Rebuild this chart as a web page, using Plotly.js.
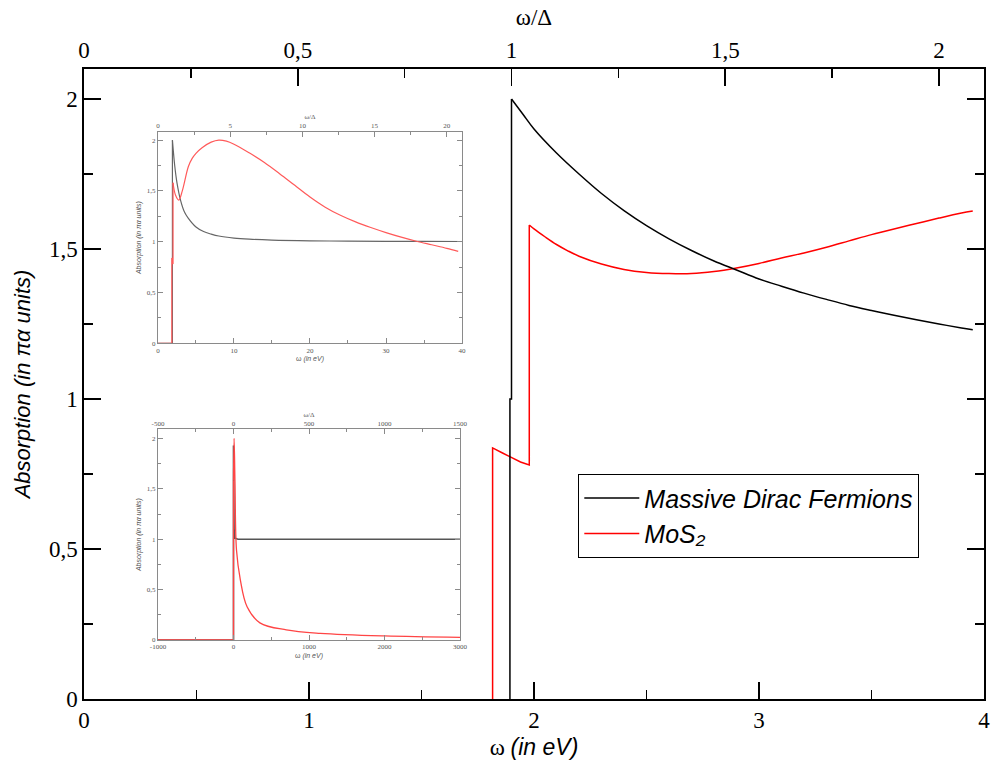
<!DOCTYPE html>
<html>
<head>
<meta charset="utf-8">
<script src="https://cdn.plot.ly/plotly-3.0.1.min.js"></script>
<style>html,body{margin:0;padding:0;background:#fff;}#chart{width:991px;height:763px;}</style>
</head>
<body>
<div id="chart"></div>
<script>
// ---------- data ----------
const DELTA_EV = 1.9;          // gap: omega/Delta = 1 at ~1.9 eV

// main panel: Massive Dirac Fermions (onset steps, then smooth decay)
const mdfStepOmega = [1.893, 1.893, 1.90, 1.90];
const mdfStepAbs   = [0, 1.0, 1.0, 2.0];
const mdfOmega = [1.90, 1.95, 2.0, 2.1, 2.2, 2.3, 2.4, 2.5, 2.6, 2.7, 2.8, 2.9, 3.0, 3.1, 3.2, 3.3, 3.4, 3.5, 3.6, 3.7, 3.8, 3.9, 3.95];
const mdfAbs   = [2.0, 1.95, 1.90, 1.82, 1.75, 1.685, 1.628, 1.578, 1.534, 1.495, 1.46, 1.43, 1.40, 1.376, 1.353, 1.332, 1.312, 1.295, 1.279, 1.264, 1.25, 1.237, 1.231];

// main panel: MoS2
const mosStepOmega = [1.816, 1.816, 1.86, 1.90, 1.94, 1.979, 1.979];
const mosStepAbs   = [0, 0.837, 0.82, 0.805, 0.79, 0.78, 1.58];
const mosOmega = [1.979, 2.0, 2.05, 2.1, 2.15, 2.2, 2.3, 2.4, 2.5, 2.6, 2.7, 2.8, 2.9, 3.0, 3.1, 3.2, 3.3, 3.4, 3.5, 3.6, 3.7, 3.8, 3.9, 3.95];
const mosAbs   = [1.58, 1.567, 1.540, 1.515, 1.494, 1.476, 1.450, 1.432, 1.422, 1.418, 1.418, 1.425, 1.437, 1.452, 1.47, 1.487, 1.506, 1.527, 1.548, 1.567, 1.585, 1.603, 1.62, 1.627];

// inset 1 (0 - 40 eV)
const in1MdfStepOmega = [0, 1.9, 1.9];
const in1MdfStepAbs   = [0, 0, 2.0];
const in1MdfOmega = [1.9, 2.2, 2.5, 3, 3.5, 4, 5, 6, 7, 8, 10, 12, 15, 20, 25, 30, 35, 40];
const in1MdfAbs   = [2.0, 1.75, 1.58, 1.40, 1.29, 1.23, 1.145, 1.10, 1.075, 1.056, 1.036, 1.025, 1.016, 1.009, 1.006, 1.004, 1.003, 1.002];
const in1MosStepOmega = [0, 1.82, 1.82, 1.98, 1.98];
const in1MosStepAbs   = [0, 0, 0.84, 0.78, 1.58];
const in1MosOmega = [1.98, 2.3, 2.74, 3.2, 4, 4.5, 5, 5.8, 7, 8, 9, 10, 12, 14, 16, 18, 20, 22, 24, 26, 28, 30, 32, 34, 36, 38, 39.5];
const in1MosAbs   = [1.58, 1.46, 1.41, 1.50, 1.74, 1.82, 1.87, 1.925, 1.98, 2.0, 1.99, 1.96, 1.875, 1.78, 1.67, 1.555, 1.44, 1.34, 1.26, 1.195, 1.14, 1.09, 1.045, 1.005, 0.97, 0.935, 0.905];

// inset 2 (-1000 - 3000 eV)
const in2MdfOmega = [-1000, 0, 0, 8, 20, 60, 3000];
const in2MdfAbs   = [0, 0, 1.93, 1.1, 1.01, 1.0, 1.0];
const in2MosStepOmega = [-1000, 0, 0];
const in2MosStepAbs   = [0, 0, 1.58];
const in2MosOmega = [0, 8, 20, 40, 90, 180, 350, 700, 1150, 2000, 3000];
const in2MosAbs   = [1.58, 2.0, 1.55, 0.89, 0.60, 0.33, 0.17, 0.10, 0.066, 0.04, 0.026];

// tick labels
const mainXTicks = [0, 1, 2, 3, 4];
const mainXLabels = ['0', '1', '2', '3', '4'];
const mainTopTicks = [0, 0.5, 1, 1.5, 2];
const mainTopLabels = ['0', '0,5', '1', '1,5', '2'];
const absTicks = [0, 0.5, 1, 1.5, 2];
const absLabels = ['0', '0,5', '1', '1,5', '2'];
const in1XTicks = [0, 10, 20, 30, 40];
const in1XLabels = ['0', '10', '20', '30', '40'];
const in1TopTicks = [0, 5, 10, 15, 20];
const in1TopLabels = ['0', '5', '10', '15', '20'];
const in2XTicks = [-1000, 0, 1000, 2000, 3000];
const in2XLabels = ['-1000', '0', '1000', '2000', '3000'];
const in2TopTicks = [-500, 0, 500, 1000, 1500];
const in2TopLabels = ['-500', '0', '500', '1000', '1500'];

// ---------- styling ----------
const SERIF = 'Liberation Serif, Times New Roman, serif';
const SANS = 'Liberation Sans, Arial, sans-serif';

function mainAxis(extra) {
  return Object.assign({
    showgrid: false, zeroline: false, showline: true, linecolor: '#000', linewidth: 1.6,
    ticks: 'inside', ticklen: 17, tickwidth: 1.6, tickcolor: '#000',
    tickmode: 'array', layer: 'above traces',
    tickfont: {family: SERIF, size: 23, color: '#000'},
    fixedrange: true
  }, extra);
}
function insetAxis(extra) {
  return Object.assign({
    showgrid: false, zeroline: false, showline: true, linecolor: '#8a8a8a', linewidth: 1,
    ticks: 'inside', ticklen: 5, tickwidth: 1, tickcolor: '#8a8a8a',
    tickmode: 'array', layer: 'above traces',
    tickfont: {family: SERIF, size: 7, color: '#555'},
    fixedrange: true
  }, extra);
}

function lineTrace(x, y, color, width, xa, ya, shape, extra) {
  return Object.assign({x: x, y: y, type: 'scatter', mode: 'lines', showlegend: false,
    line: {color: color, width: width, shape: shape, smoothing: 1}, xaxis: xa, yaxis: ya,
    cliponaxis: true}, extra || {});
}

const RED = '#ff0000', BLACK = '#000000';
const traces = [
  lineTrace(mosStepOmega, mosStepAbs, RED, 1.5, 'x', 'y', 'linear', {legendgroup: 'mos'}),
  lineTrace(mosOmega, mosAbs, RED, 1.5, 'x', 'y', 'spline',
            {legendgroup: 'mos', showlegend: true, name: 'MoS\u2082', legendrank: 2}),
  lineTrace(mdfStepOmega, mdfStepAbs, BLACK, 1.5, 'x', 'y', 'linear', {legendgroup: 'mdf'}),
  lineTrace(mdfOmega, mdfAbs, BLACK, 1.5, 'x', 'y', 'spline',
            {legendgroup: 'mdf', showlegend: true, name: 'Massive Dirac Fermions', legendrank: 1}),
  {x: [], y: [], type: 'scatter', mode: 'lines', showlegend: false, xaxis: 'x2', yaxis: 'y'},

  lineTrace(in1MdfStepOmega, in1MdfStepAbs, '#666666', 1.2, 'x3', 'y3', 'linear'),
  lineTrace(in1MdfOmega, in1MdfAbs, '#666666', 1.2, 'x3', 'y3', 'spline'),
  lineTrace(in1MosStepOmega, in1MosStepAbs, '#ff5a5a', 1.2, 'x3', 'y3', 'linear'),
  lineTrace(in1MosOmega, in1MosAbs, '#ff5a5a', 1.2, 'x3', 'y3', 'spline'),
  {x: [], y: [], type: 'scatter', mode: 'lines', showlegend: false, xaxis: 'x4', yaxis: 'y3'},

  lineTrace(in2MdfOmega, in2MdfAbs, '#555555', 1.6, 'x5', 'y5', 'linear'),
  lineTrace(in2MosStepOmega, in2MosStepAbs, '#ff4545', 1.3, 'x5', 'y5', 'linear'),
  lineTrace(in2MosOmega, in2MosAbs, '#ff4545', 1.3, 'x5', 'y5', 'spline'),
  {x: [], y: [], type: 'scatter', mode: 'lines', showlegend: false, xaxis: 'x6', yaxis: 'y5'}
];

const in1Dom = {x: [0.0822, 0.42], y: [0.5646, 0.90]};
const in2Dom = {x: [0.0822, 0.4178], y: [0.0937, 0.428]};

const layout = {
  width: 991, height: 763,
  margin: {l: 84, r: 7, t: 69, b: 64, pad: 0},
  paper_bgcolor: '#ffffff', plot_bgcolor: '#ffffff',
  showlegend: true,
  legend: {
    x: 0.549, y: 0.357, xanchor: 'left', yanchor: 'top',
    bgcolor: '#ffffff', bordercolor: '#000', borderwidth: 1.2,
    font: {family: SANS, size: 25, color: '#000', style: 'italic'},
    tracegroupgap: 0, itemwidth: 55, traceorder: 'normal'
  },
  xaxis: mainAxis({
    domain: [0, 1], anchor: 'y', range: [0, 4],
    tickvals: mainXTicks, ticktext: mainXLabels,
    minor: {ticks: 'inside', ticklen: 9, tickwidth: 1.6, tickcolor: '#000', dtick: 0.5, tick0: 0},
    title: {text: 'ω <span style="font-family:Liberation Sans;font-style:italic">(in eV)</span>',
            font: {family: SERIF, size: 23, color: '#000'}, standoff: 6}
  }),
  xaxis2: mainAxis({
    overlaying: 'x', side: 'top', anchor: 'y', range: [0, 4 / DELTA_EV],
    tickvals: mainTopTicks, ticktext: mainTopLabels,
    minor: {ticks: 'inside', ticklen: 9, tickwidth: 1.6, tickcolor: '#000', dtick: 0.25, tick0: 0},
    title: {text: 'ω/Δ', font: {family: SERIF, size: 23, color: '#000'}, standoff: 6}
  }),
  yaxis: mainAxis({
    domain: [0, 1], anchor: 'x', range: [0, 2.1], mirror: 'ticks',
    tickvals: absTicks, ticktext: absLabels,
    minor: {ticks: 'inside', ticklen: 9, tickwidth: 1.6, tickcolor: '#000', dtick: 0.25, tick0: 0},
    title: {text: '<i>Absorption (in πα units)</i>', font: {family: SANS, size: 22, color: '#000'}, standoff: 12}
  }),

  xaxis3: insetAxis({
    domain: in1Dom.x, anchor: 'y3', range: [0, 40],
    tickvals: in1XTicks, ticktext: in1XLabels,
    minor: {ticks: 'inside', ticklen: 3, tickcolor: '#8a8a8a', dtick: 5, tick0: 0},
    title: {text: 'ω <i>(in eV)</i>', font: {family: SANS, size: 7, color: '#555'}, standoff: 2}
  }),
  xaxis4: insetAxis({
    overlaying: 'x3', side: 'top', anchor: 'y3', range: [0, 40 / DELTA_EV],
    tickvals: in1TopTicks, ticktext: in1TopLabels,
    minor: {ticks: 'inside', ticklen: 3, tickcolor: '#8a8a8a', dtick: 2.5, tick0: 0},
    title: {text: 'ω/Δ', font: {family: SERIF, size: 7, color: '#555'}, standoff: 1}
  }),
  yaxis3: insetAxis({
    domain: in1Dom.y, anchor: 'x3', range: [0, 2.08], mirror: 'ticks',
    tickvals: absTicks, ticktext: absLabels,
    minor: {ticks: 'inside', ticklen: 3, tickcolor: '#8a8a8a', dtick: 0.25, tick0: 0},
    title: {text: '<i>Absorption (in πα units)</i>', font: {family: SANS, size: 7, color: '#555'}, standoff: 4}
  }),

  xaxis5: insetAxis({
    domain: in2Dom.x, anchor: 'y5', range: [-1000, 3000],
    tickvals: in2XTicks, ticktext: in2XLabels,
    minor: {ticks: 'inside', ticklen: 3, tickcolor: '#8a8a8a', dtick: 500, tick0: 0},
    title: {text: 'ω <i>(in eV)</i>', font: {family: SANS, size: 7, color: '#555'}, standoff: 2}
  }),
  xaxis6: insetAxis({
    overlaying: 'x5', side: 'top', anchor: 'y5', range: [-500, 1500],
    tickvals: in2TopTicks, ticktext: in2TopLabels,
    minor: {ticks: 'inside', ticklen: 3, tickcolor: '#8a8a8a', dtick: 250, tick0: 0},
    title: {text: 'ω/Δ', font: {family: SERIF, size: 7, color: '#555'}, standoff: 1}
  }),
  yaxis5: insetAxis({
    domain: in2Dom.y, anchor: 'x5', range: [0, 2.09], mirror: 'ticks',
    tickvals: absTicks, ticktext: absLabels,
    minor: {ticks: 'inside', ticklen: 3, tickcolor: '#8a8a8a', dtick: 0.25, tick0: 0},
    title: {text: '<i>Absorption (in πα units)</i>', font: {family: SANS, size: 7, color: '#555'}, standoff: 4}
  })
};

Plotly.newPlot('chart', traces, layout, {staticPlot: true, displayModeBar: false, responsive: false});
</script>
</body>
</html>
